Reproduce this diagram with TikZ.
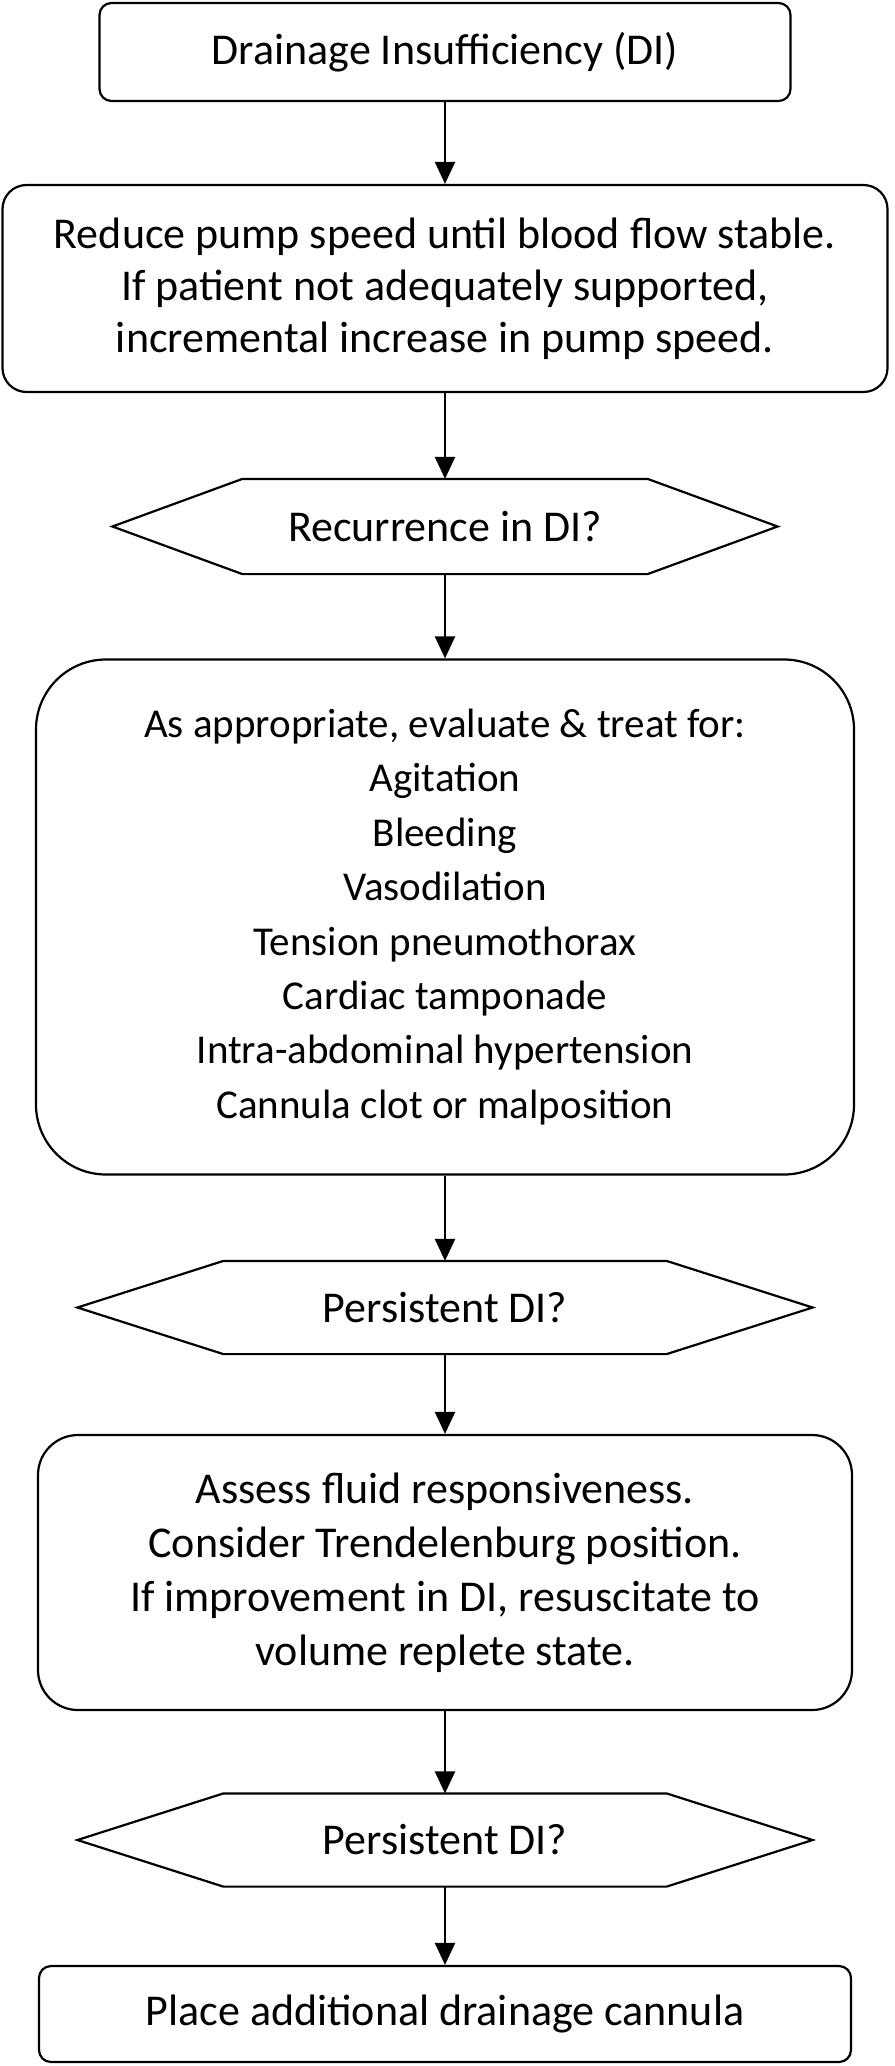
\documentclass[tikz,border=0pt]{standalone}
\usepackage{fontspec}
\setmainfont{Carlito}
\usetikzlibrary{arrows.meta}

\begin{document}
\begin{tikzpicture}[x=0.5pt, y=-0.5pt, line width=1.1pt, line join=miter,
    box/.style={draw, rounded corners=#1, align=center, inner sep=0pt,
                font=\fontsize{22}{26.5}\selectfont},
    box/.default=6pt,
    query/.style={align=center, inner sep=0pt, font=\fontsize{22}{26.5}\selectfont},
    flow/.style={-{Triangle[length=11pt,width=10pt]}}]
    \useasboundingbox (0,0) rectangle (894,2066);

    \node[box, minimum width=345.5pt, minimum height=49pt] (DI) at (445,52)
        {Drainage Insufficiency (DI)};
    \node[box=12pt, minimum width=442.5pt, minimum height=103.5pt,
          font=\fontsize{22}{26}\selectfont] (reduce) at (445,288.5)
        {Reduce pump speed until blood flow stable.\\
         If patient not adequately supported,\\
         incremental increase in pump speed.};
    \node[query, minimum width=201.5pt, minimum height=46.5pt] (recur) at (445,526.5)
        {Recurrence in DI?};
    \node[box=35pt, minimum width=409pt, minimum height=257.5pt,
          font=\fontsize{20.5}{27.2}\selectfont] (treat) at (445,917)
        {As appropriate, evaluate \& treat for:\\
         Agitation\\
         Bleeding\\
         Vasodilation\\
         Tension pneumothorax\\
         Cardiac tamponade\\
         Intra-abdominal hypertension\\
         Cannula clot or malposition};
    \node[query, minimum width=220.5pt, minimum height=45.5pt] (persA) at (445,1307.5)
        {Persistent DI?};
    \node[box=20pt, minimum width=407pt, minimum height=137.5pt,
          font=\fontsize{22}{27}\selectfont] (fluid) at (445,1572.5)
        {Assess fluid responsiveness.\\
         Consider Trendelenburg position.\\
         If improvement in DI, resuscitate to\\
         volume replete state.};
    \node[query, minimum width=220.5pt, minimum height=45.5pt] (persB) at (445,1840)
        {Persistent DI?};
    \node[box, minimum width=406pt, minimum height=48pt] (cannula) at (445,2014)
        {Place additional drainage cannula};

    % hexagon outlines
    \draw (recur.north west) -- (recur.north east) -- ([xshift=65pt]recur.east)
        -- (recur.south east) -- (recur.south west) -- ([xshift=-65pt]recur.west) -- cycle;
    \draw (persA.north west) -- (persA.north east) -- ([xshift=73pt]persA.east)
        -- (persA.south east) -- (persA.south west) -- ([xshift=-73pt]persA.west) -- cycle;
    \draw (persB.north west) -- (persB.north east) -- ([xshift=73pt]persB.east)
        -- (persB.south east) -- (persB.south west) -- ([xshift=-73pt]persB.west) -- cycle;

    \draw[flow] (DI)     -- (reduce);
    \draw[flow] (reduce) -- (recur);
    \draw[flow] (recur)  -- (treat);
    \draw[flow] (treat)  -- (persA);
    \draw[flow] (persA)  -- (fluid);
    \draw[flow] (fluid)  -- (persB);
    \draw[flow] (persB)  -- (cannula);
\end{tikzpicture}
\end{document}
